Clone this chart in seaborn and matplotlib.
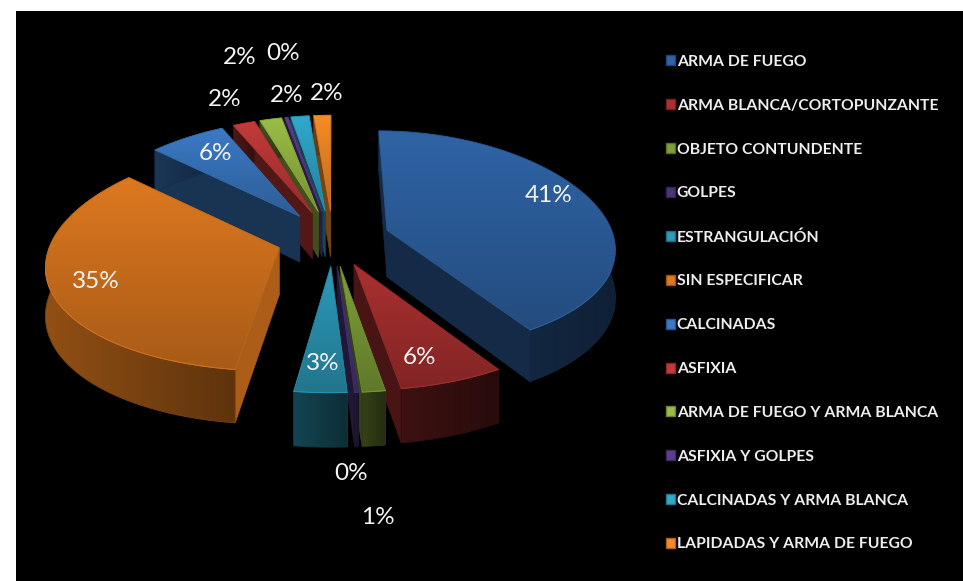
import numpy as np
import matplotlib
matplotlib.use('Agg')
import matplotlib.pyplot as plt
from matplotlib.patches import Polygon, Patch
import seaborn as sns

# Datos
categorias = ['ARMA DE FUEGO', 'ARMA BLANCA/CORTOPUNZANTE', 'OBJETO CONTUNDENTE', 'GOLPES',
              'ESTRANGULACIÓN', 'SIN ESPECIFICAR', 'CALCINADAS', 'ASFIXIA',
              'ARMA DE FUEGO Y ARMA BLANCA', 'ASFIXIA Y GOLPES',
              'CALCINADAS Y ARMA BLANCA', 'LAPIDADAS Y ARMA DE FUEGO']
porcentajes = [41.3, 6.45, 1.4, 0.25, 3.2, 34.6, 6.4, 1.9, 1.9, 0.3, 1.6, 1.5]

# Estilo
colores = ['#2f64a6', '#ab3030', '#7f9f38', '#4a3478', '#2c9ab9', '#dd781f',
           '#3b7ac6', '#c43a3a', '#9abd45', '#5a3f90', '#30a9cd', '#f68c25']
sombra_arco = [0.50, 0.36, 0.42, 0.45, 0.45, 0.66, 0.45, 0.40, 0.42, 0.45, 0.45, 0.45]
sombra_corte = [0.42, 0.42, 0.42, 0.45, 0.42, 0.78, 0.42, 0.42, 0.42, 0.45, 0.42, 0.48]
pos_etiquetas = [(549, 196), (419, 357), (378, 517), (351, 474), (323, 364), (96, 282),
                 (215, 153), (225, 99), (240, 58), (283, 53), (287, 95), (327, 93)]

CX, CY = 333, 238
RX, RY = 227, 111
EXPLOTA = 0.25


def proyectar(x, y):
    # perspectiva simple: lo que esta al frente se ve mas grande
    return CX + RX * x * (1 + 0.15 * y), CY + RY * y * (1 + 0.092 * y)


def profundidad(y):
    return 47 + 6 * y


def tono(color, f):
    return tuple(np.clip(np.array(matplotlib.colors.to_rgb(color)) * f, 0, 1))


def relleno(ax, pts, c0, c1, zorder, horizontal=False):
    pts = np.asarray(pts)
    t = np.linspace(0, 1, 64)
    grad = np.array([np.array(c0) * (1 - v) + np.array(c1) * v for v in t])
    img = grad[np.newaxis, :, :] if horizontal else grad[:, np.newaxis, :]
    x0, x1, y0, y1 = pts[:, 0].min(), pts[:, 0].max(), pts[:, 1].min(), pts[:, 1].max()
    im = ax.imshow(img, extent=(x0, x1, y1, y0), aspect='auto', zorder=zorder, interpolation='bilinear')
    im.set_clip_path(Polygon(pts, closed=True, transform=ax.transData))
    # borde fino para suavizar el recorte
    ax.add_patch(Polygon(pts, closed=True, fill=False, lw=0.6,
                         ec=tuple((np.array(c0) + np.array(c1)) / 2), zorder=zorder))


sns.set_theme(style='white')
plt.rcParams['font.family'] = ['Lato', 'DejaVu Sans']

fig = plt.figure(figsize=(9.63, 5.81), dpi=100, facecolor='white')
ax = fig.add_axes([16 / 963, 0, 947 / 963, 570 / 581])
ax.set_facecolor('black')

fracciones = np.array(porcentajes) / sum(porcentajes)
fin = np.cumsum(fracciones) * 2 * np.pi
inicio = fin - fracciones * 2 * np.pi
medio = (inicio + fin) / 2

# de atras hacia adelante
orden = np.argsort(-np.cos(medio))
z = 2
for i in orden:
    ax0 = EXPLOTA * np.sin(medio[i])
    ay0 = -EXPLOTA * np.cos(medio[i])
    ang = np.linspace(inicio[i], fin[i], 60)
    ux = ax0 + np.sin(ang)
    uy = ay0 - np.cos(ang)
    px, py = proyectar(ux, uy)
    qx, qy = proyectar(ax0, ay0)
    dp = profundidad(uy)
    dq = profundidad(ay0)
    base = colores[i]

    # caras de corte
    for k in (0, -1):
        cara = [(qx, qy), (px[k], py[k]), (px[k], py[k] + dp[k]), (qx, qy + dq)]
        ax.add_patch(Polygon(cara, closed=True, fc=tono(base, sombra_corte[i]),
                             ec=tono(base, sombra_corte[i]), lw=0.5, zorder=z))
        z += 1
    # arco exterior
    arco = np.vstack([np.c_[px, py], np.c_[px, py + dp][::-1]])
    relleno(ax, arco, tono(base, sombra_arco[i]), tono(base, sombra_arco[i] * 0.65), z, horizontal=True)
    z += 1
    # cara superior
    tapa = np.vstack([[(qx, qy)], np.c_[px, py]])
    relleno(ax, tapa, tono(base, 1.0), tono(base, 0.76), z)
    z += 1
    # brillo del borde frontal
    frente = uy > 0.25
    if frente.any():
        ax.plot(px[frente], py[frente], color=tono(base, 0.95), lw=0.7, zorder=z)
    z += 1

for v, (x, y) in zip(porcentajes, pos_etiquetas):
    ax.text(x, y, f'{v:.0f}%', color='#f4f4f4', fontsize=17.5, ha='center', va='center', zorder=z)

manijas = [Patch(fc=c, ec=tono(c, 0.7), lw=1) for c in colores]
ley = ax.legend(manijas, categorias, loc='upper left', bbox_to_anchor=(0.686, 0.923), frameon=False,
                labelspacing=1.90, handlelength=0.6, handleheight=0.6, handletextpad=0.1,
                borderaxespad=0, borderpad=0, labelcolor='#eeeeee',
                prop={'family': 'Lato', 'weight': 'bold', 'size': 11.3})

ax.set_xlim(16, 963)
ax.set_ylim(581, 11)
ax.set_xticks([])
ax.set_yticks([])
for s in ax.spines.values():
    s.set_visible(False)

fig.savefig('out.png', dpi=100, facecolor='white')
plt.close(fig)
